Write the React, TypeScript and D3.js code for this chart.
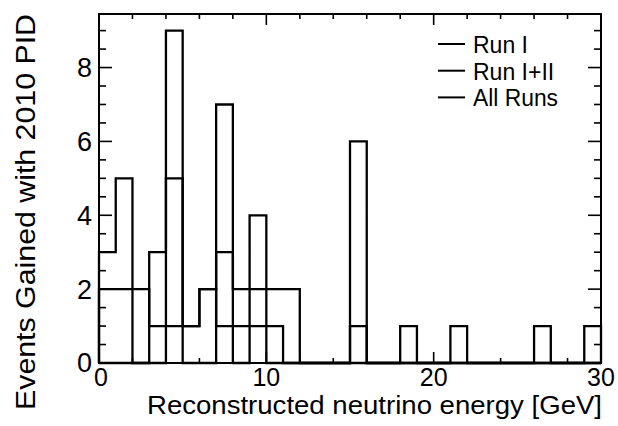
import React from "react";
import * as d3 from "d3";

// Bin lower edges (GeV), bin width 1 GeV
const binEdges = [0,1,2,3,4,5,6,7,8,9,10,11,12,13,14,15,16,17,18,19,20,21,22,23,24,25,26,27,28,29,30];

const allRuns =  [3,5,0,3,9,0,0,7,0,4,0,0,0,0,0,6,0,0,0,0,0,0,0,0,0,0,0,0,0,0];
const runI_II =  [2,2,2,1,5,1,2,3,2,2,2,2,0,0,0,1,0,0,1,0,0,1,0,0,0,0,1,0,0,1];
const runI =     [0,0,0,0,1,1,2,1,1,1,1,0,0,0,0,0,0,0,0,0,0,0,0,0,0,0,0,0,0,0];

const seriesNames = ["Run I", "Run I+II", "All Runs"];
const xMajorTicks = [0, 10, 20, 30];
const xMinorTicks = [0,2,4,6,8,10,12,14,16,18,20,22,24,26,28,30];
const yMajorTicks = [0, 2, 4, 6, 8];
const yMinorTicks = [0,0.5,1,1.5,2,2.5,3,3.5,4,4.5,5,5.5,6,6.5,7,7.5,8,8.5,9];

const W = 618, H = 426;
const left = 99, right = 601, top = 14, bottom = 363;
const yMax = 9.45;
const FONT = "'Liberation Sans', Arial, Helvetica, sans-serif";

export default function App() {
  const x = d3.scaleLinear().domain([0, 30]).range([left, right]);
  const y = d3.scaleLinear().domain([0, yMax]).range([bottom, top]);

  const line = d3.line<[number, number]>().x(d => x(d[0])).y(d => y(d[1]));

  const histPath = (vals: number[]) => {
    const pts: [number, number][] = [[binEdges[0], 0]];
    vals.forEach((v, i) => {
      pts.push([binEdges[i], v]);
      pts.push([binEdges[i + 1], v]);
    });
    pts.push([binEdges[binEdges.length - 1], 0]);
    return line(pts) || "";
  };

  const series = [runI, runI_II, allRuns];

  return (
    <svg width={W} height={H} style={{ position: "absolute", left: 0, top: 0, background: "#fff" }}
      fontFamily={FONT}>
      <rect x={0} y={0} width={W} height={H} fill="#fff" />
      {series.map((s, i) => (
        <path key={i} d={histPath(s)} fill="none" stroke="#000" strokeWidth={2.3} strokeLinejoin="miter" />
      ))}
      <rect x={left} y={top} width={right - left} height={bottom - top} fill="none" stroke="#000" strokeWidth={2} />
      {xMinorTicks.map(t => {
        const major = xMajorTicks.includes(t);
        const len = major ? 11 : 5;
        return (
          <g key={"xt" + t}>
            <line x1={x(t)} x2={x(t)} y1={bottom} y2={bottom - len} stroke="#000" strokeWidth={1.6} />
            <line x1={x(t)} x2={x(t)} y1={top} y2={top + len} stroke="#000" strokeWidth={1.6} />
          </g>
        );
      })}
      {yMinorTicks.map(t => {
        const major = yMajorTicks.includes(t);
        const len = major ? 13 : 7;
        return (
          <g key={"yt" + t}>
            <line x1={left} x2={left + len} y1={y(t)} y2={y(t)} stroke="#000" strokeWidth={1.6} />
            <line x1={right} x2={right - len} y1={y(t)} y2={y(t)} stroke="#000" strokeWidth={1.6} />
          </g>
        );
      })}
      {xMajorTicks.map(t => (
        <text key={"xl" + t} x={x(t) + (t === 0 ? 2 : 0)} y={386} fontSize={25} textAnchor="middle" fill="#000">
          {String(t)}
        </text>
      ))}
      {yMajorTicks.map(t => (
        <text key={"yl" + t} x={92} y={y(t) + 9.5 - (t === 0 ? 1 : 0)} fontSize={27} textAnchor="end" fill="#000">
          {String(t)}
        </text>
      ))}
      <text x={147} y={414} fontSize={25} textLength={455} lengthAdjust="spacingAndGlyphs" fill="#000">
        Reconstructed neutrino energy [GeV]
      </text>
      <text transform="translate(35,410) rotate(-90)" x={0} y={0} fontSize={27} textLength={396}
        lengthAdjust="spacingAndGlyphs" fill="#000">
        Events Gained with 2010 PID
      </text>
      {seriesNames.map((n, i) => {
        const ly = 44 + i * 26.7;
        return (
          <g key={n}>
            <line x1={438} x2={465} y1={ly} y2={ly} stroke="#000" strokeWidth={2} />
            <text x={473} y={ly + 8.8} fontSize={23} textLength={n === "All Runs" ? 85 : undefined}
              lengthAdjust="spacingAndGlyphs" fill="#000">{n}</text>
          </g>
        );
      })}
    </svg>
  );
}
